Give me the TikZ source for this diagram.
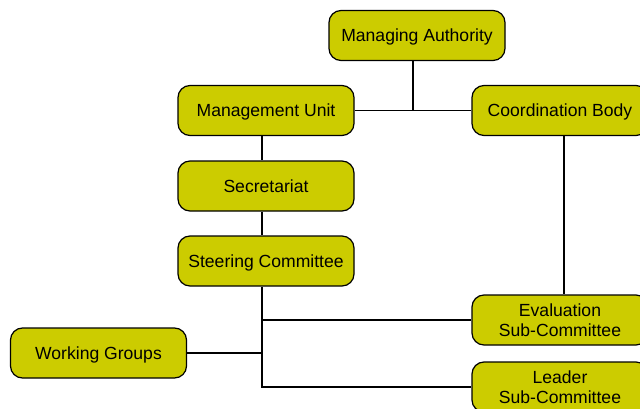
\documentclass[tikz,border=0pt]{standalone}
\usepackage{fontspec}
\setmainfont{Liberation Sans}
\usetikzlibrary{calc}
\definecolor{unitFill}{RGB}{204,204,0}

\begin{document}
\begin{tikzpicture}[every node/.style={font=\fontsize{10}{11.5}\selectfont},
  unit/.style={draw, line width=0.7pt, rounded corners=2.4mm, fill=unitFill,
    minimum width=3.52cm, minimum height=1cm, align=center, inner sep=1pt},
  oneline/.style={unit, text depth=0pt},
  link/.style={line width=0.7pt}]
  \useasboundingbox (0,0) rectangle (12.8,8.16);
  % boxes of the organisation chart
  \node[oneline] (ma)  at (8.34,7.45)  {Managing Authority};
  \node[oneline] (mu)  at (5.32,5.95)  {Management Unit};
  \node[oneline] (cb)  at (11.2,5.95)  {Coordination Body};
  \node[oneline] (sec) at (5.32,4.44)  {Secretariat};
  \node[oneline] (sc)  at (5.32,2.94)  {Steering Committee};
  \node[unit] (eval)   at (11.2,1.76)  {Evaluation\\Sub-Committee};
  \node[oneline] (wg)  at (1.97,1.10)  {Working Groups};
  \node[unit] (leader) at (11.2,0.42)  {Leader\\Sub-Committee};
  % trunk and junction points
  \coordinate (trunk) at (5.24,0);
  \coordinate (join)  at (8.26,5.95);
  \coordinate (drop)  at ($(cb.south)+(0.08,0)$);
  % connectors
  \draw[link] (mu.east) -- (cb.west);
  \draw[link] (ma.south -| join) -- (join);
  \draw[link] (mu.south -| trunk) -- (sec.north -| trunk);
  \draw[link] (sec.south -| trunk) -- (sc.north -| trunk);
  \draw[link] (sc.south -| trunk) -- (trunk |- leader.west) -- (leader.west);
  \draw[link] (eval.west -| trunk) -- (eval.west);
  \draw[link] (wg.east) -- (wg.east -| trunk);
  \draw[link] (drop) -- (drop |- eval.north);
\end{tikzpicture}
\end{document}
